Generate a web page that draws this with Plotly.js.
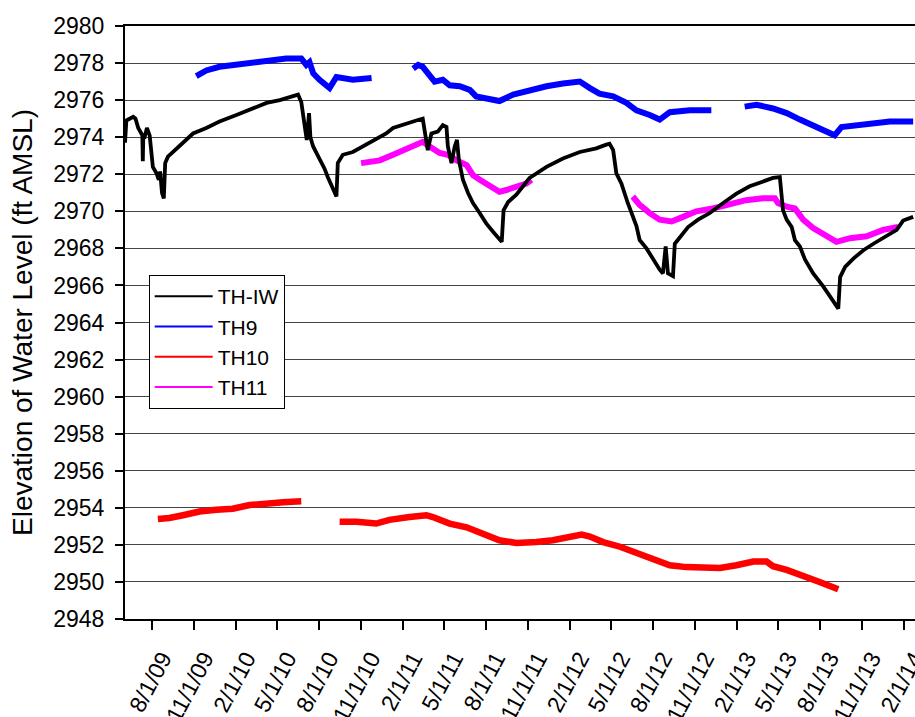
<!DOCTYPE html>
<html>
<head>
<meta charset="utf-8">
<script src="https://cdn.plot.ly/plotly-3.0.1.min.js"></script>
<style>html,body{margin:0;padding:0;background:#fff;}#chart{width:915px;height:717px;}</style>
</head>
<body>
<div id="chart"></div>
<script>
const seriesNames = ['TH-IW', 'TH9', 'TH10', 'TH11'];

const thiwDates = ['2009-06-02','2009-06-05','2009-06-20','2009-06-25','2009-07-01','2009-07-08','2009-07-10','2009-07-11','2009-07-12','2009-07-15','2009-07-20','2009-07-26','2009-07-30','2009-08-02','2009-08-10','2009-08-15','2009-08-18','2009-08-22','2009-08-26','2009-08-29','2009-09-04','2009-09-15','2009-10-03','2009-10-29','2009-11-27','2009-12-26','2010-02-01','2010-03-09','2010-04-08','2010-05-07','2010-06-05','2010-06-16','2010-06-23','2010-06-30','2010-07-05','2010-07-10','2010-07-13','2010-07-19','2010-08-02','2010-08-13','2010-08-20','2010-08-28','2010-09-04','2010-09-08','2010-09-11','2010-09-22','2010-10-14','2010-11-05','2010-11-27','2010-12-26','2011-01-10','2011-02-08','2011-03-02','2011-03-16','2011-03-20','2011-03-27','2011-04-04','2011-04-18','2011-04-29','2011-05-07','2011-05-10','2011-05-18','2011-05-25','2011-05-30','2011-06-03','2011-06-12','2011-06-23','2011-07-04','2011-07-19','2011-08-02','2011-08-17','2011-08-31','2011-09-05','2011-09-09','2011-09-19','2011-10-07','2011-11-05','2011-12-12','2012-01-17','2012-02-23','2012-03-30','2012-04-21','2012-04-28','2012-05-06','2012-05-13','2012-05-24','2012-06-07','2012-06-26','2012-07-03','2012-07-18','2012-08-01','2012-08-16','2012-08-23','2012-08-29','2012-09-03','2012-09-14','2012-09-18','2012-09-29','2012-10-17','2012-11-08','2012-12-03','2013-01-02','2013-01-31','2013-03-01','2013-03-30','2013-04-21','2013-05-06','2013-05-10','2013-05-13','2013-05-21','2013-06-01','2013-06-08','2013-06-19','2013-06-30','2013-07-18','2013-08-09','2013-08-27','2013-09-11','2013-09-15','2013-09-26','2013-10-14','2013-11-05','2013-11-27','2013-12-26','2014-01-17','2014-01-31','2014-02-22'];
const thiwValues = [2973.7,2974.9,2975.1,2975.0,2974.5,2974.2,2974.1,2972.7,2974.0,2974.0,2974.5,2974.1,2973.3,2972.4,2972.05,2971.7,2972.15,2971.0,2970.7,2972.6,2972.95,2973.2,2973.65,2974.2,2974.5,2974.85,2975.2,2975.55,2975.85,2976.0,2976.2,2976.3,2975.9,2974.6,2973.85,2975.3,2974.0,2973.5,2972.85,2972.3,2971.85,2971.4,2970.9,2970.8,2972.6,2973.05,2973.2,2973.5,2973.85,2974.2,2974.5,2974.75,2974.9,2975.0,2974.4,2973.3,2974.2,2974.3,2974.65,2974.55,2973.5,2972.6,2973.5,2973.85,2972.8,2971.7,2971.0,2970.45,2969.9,2969.35,2968.9,2968.45,2968.35,2970.05,2970.5,2970.9,2971.8,2972.4,2972.85,2973.2,2973.4,2973.6,2973.65,2973.3,2972.05,2971.5,2970.45,2969.2,2968.45,2968.0,2967.4,2966.85,2966.65,2968.1,2966.65,2966.5,2968.25,2968.6,2969.15,2969.55,2969.9,2970.45,2970.95,2971.35,2971.6,2971.8,2971.85,2970.95,2970.05,2969.55,2969.15,2968.45,2968.1,2967.4,2966.65,2965.95,2965.3,2964.75,2966.45,2967.0,2967.45,2967.9,2968.25,2968.65,2969.0,2969.5,2969.7];

const th9Dates = ['2009-11-05','2009-11-27','2009-12-26','2010-02-01','2010-03-09','2010-04-15','2010-05-21','2010-06-23','2010-07-04','2010-07-11','2010-07-19','2010-08-02','2010-08-24','2010-09-08','2010-10-14','2010-11-24','2011-01-15','2011-02-23','2011-03-06','2011-03-16','2011-03-31','2011-04-11','2011-04-29','2011-05-14','2011-06-05','2011-06-27','2011-07-11','2011-08-02','2011-08-31','2011-09-30','2011-11-05','2011-12-12','2012-01-17','2012-02-23','2012-03-16','2012-04-06','2012-05-06','2012-06-04','2012-06-26','2012-07-18','2012-07-25','2012-08-16','2012-09-07','2012-10-21','2012-12-07','2013-01-15','2013-02-18','2013-03-16','2013-04-21','2013-05-21','2013-06-19','2013-07-18','2013-08-16','2013-09-03','2013-09-18','2013-10-21','2013-11-27','2014-01-02','2014-02-22'];
const th9Values = [2977.3,2977.6,2977.8,2977.9,2978.05,2978.15,2978.25,2978.25,2977.9,2978.05,2977.45,2977.1,2976.65,2977.25,2977.1,2977.2,null,2977.7,2977.9,2977.8,2977.35,2977.0,2977.1,2976.8,2976.75,2976.55,2976.2,2976.1,2975.95,2976.3,2976.55,2976.75,2976.9,2977.0,2976.65,2976.35,2976.2,2975.85,2975.45,2975.3,2975.2,2974.95,2975.35,2975.45,2975.45,null,2975.65,2975.75,2975.55,2975.3,2974.95,2974.6,2974.3,2974.1,2974.55,2974.65,2974.75,2974.85,2974.85];

const th10Dates = ['2009-08-13','2009-09-07','2009-10-07','2009-11-12','2009-12-19','2010-01-24','2010-03-02','2010-04-08','2010-05-14','2010-06-23','2010-08-01','2010-09-15','2010-10-22','2010-12-04','2011-01-02','2011-02-15','2011-03-24','2011-04-07','2011-05-14','2011-06-20','2011-07-26','2011-08-31','2011-10-07','2011-10-29','2011-11-20','2011-12-26','2012-02-01','2012-02-27','2012-03-16','2012-04-14','2012-05-21','2012-06-26','2012-08-01','2012-09-07','2012-10-13','2012-11-18','2012-12-26','2013-01-31','2013-03-09','2013-04-07','2013-04-21','2013-05-21','2013-06-26','2013-08-01','2013-09-11'];
const th10Values = [2953.4,2953.45,2953.6,2953.8,2953.9,2953.95,2954.15,2954.25,2954.3,2954.35,null,2953.25,2953.25,2953.15,2953.35,2953.5,2953.6,2953.5,2953.15,2952.95,2952.6,2952.25,2952.1,2952.1,2952.15,2952.25,2952.45,2952.55,2952.45,2952.15,2951.9,2951.6,2951.25,2950.9,2950.8,2950.75,2950.75,2950.9,2951.1,2951.1,2950.85,2950.65,2950.35,2950.0,2949.6];

const th11Dates = ['2010-11-01','2010-12-12','2011-01-10','2011-02-08','2011-03-02','2011-03-16','2011-03-31','2011-04-22','2011-05-10','2011-05-29','2011-06-20','2011-07-04','2011-07-19','2011-08-10','2011-08-31','2011-09-15','2011-10-07','2011-10-29','2011-11-09','2012-03-01','2012-06-18','2012-07-03','2012-07-18','2012-07-25','2012-08-16','2012-09-11','2012-10-06','2012-11-04','2012-12-10','2013-01-16','2013-02-21','2013-03-30','2013-04-25','2013-05-02','2013-05-21','2013-06-08','2013-06-26','2013-07-18','2013-08-16','2013-09-07','2013-10-07','2013-11-12','2013-12-18','2014-01-20'];
const th11Values = [2972.6,2972.75,2973.05,2973.4,2973.65,2973.75,2973.5,2973.15,2973.05,2972.75,2972.5,2971.95,2971.7,2971.35,2971.05,2971.15,2971.35,2971.5,2971.7,null,2970.8,2970.35,2970.05,2969.9,2969.55,2969.45,2969.7,2970.0,2970.15,2970.35,2970.6,2970.7,2970.7,2970.45,2970.25,2970.15,2969.55,2969.1,2968.65,2968.35,2968.55,2968.65,2969.0,2969.15];

const xTickVals = ['2009-08-01','2009-11-01','2010-02-01','2010-05-01','2010-08-01','2010-11-01','2011-02-01','2011-05-01','2011-08-01','2011-11-01','2012-02-01','2012-05-01','2012-08-01','2012-11-01','2013-02-01','2013-05-01','2013-08-01','2013-11-01','2014-02-01'];
const xTickText = ['8/1/09','11/1/09','2/1/10','5/1/10','8/1/10','11/1/10','2/1/11','5/1/11','8/1/11','11/1/11','2/1/12','5/1/12','8/1/12','11/1/12','2/1/13','5/1/13','8/1/13','11/1/13','2/1/14'];

const colors = ['#000000', '#0000FF', '#FF0000', '#FF00FF'];
const FONT = 'Liberation Sans, Arial, sans-serif';

const traces = [
  {x: th11Dates, y: th11Values, mode: 'lines', line: {color: colors[3], width: 6}, showlegend: false, connectgaps: false},
  {x: th9Dates, y: th9Values, mode: 'lines', line: {color: colors[1], width: 6}, showlegend: false, connectgaps: false},
  {x: th10Dates, y: th10Values, mode: 'lines', line: {color: colors[2], width: 6.5}, showlegend: false, connectgaps: false},
  {x: thiwDates, y: thiwValues, mode: 'lines', line: {color: colors[0], width: 3.8}, showlegend: false, connectgaps: false}
];
seriesNames.forEach((n, i) => {
  traces.push({x: [null], y: [null], mode: 'lines', name: n, line: {color: colors[i], width: 2}, showlegend: true});
});

const layout = {
  width: 915, height: 717,
  margin: {l: 125, r: 0, t: 26, b: 98},
  paper_bgcolor: '#fff', plot_bgcolor: '#fff',
  font: {family: FONT, color: '#000'},
  showlegend: true,
  legend: {
    x: 0.03, y: 0.58, xanchor: 'left', yanchor: 'top',
    bgcolor: '#fff', bordercolor: '#000', borderwidth: 1,
    font: {family: FONT, size: 21, color: '#000'},
    itemwidth: 58, tracegroupgap: 0,
    entrywidth: 133, entrywidthmode: 'pixels'
  },
  xaxis: {
    type: 'date',
    range: ['2009-06-02', '2014-02-26'],
    tickvals: xTickVals, ticktext: xTickText,
    tickangle: -62,
    ticks: 'outside', ticklen: 9, tickwidth: 2, tickcolor: '#000',
    showgrid: false, zeroline: false,
    showline: true, linecolor: '#000', linewidth: 2, mirror: true,
    tickfont: {family: FONT, size: 23, color: '#000'},
    ticklabelshift: 10, ticklabelstandoff: 6,
    ticklabeloverflow: 'allow'
  },
  yaxis: {
    range: [2948, 2980], dtick: 2, tick0: 2948,
    ticks: 'outside', ticklen: 8, tickwidth: 2, tickcolor: '#000',
    showgrid: true, gridcolor: '#444', gridwidth: 1,
    zeroline: false, showline: true, linecolor: '#000', linewidth: 2,
    tickfont: {family: FONT, size: 23, color: '#000'},
    ticklabelstandoff: 6,
    title: {text: 'Elevation of Water Level (ft AMSL)', font: {family: FONT, size: 28, color: '#000'}, standoff: 12}
  }
};

Plotly.newPlot('chart', traces, layout, {displayModeBar: false, staticPlot: true});
</script>
</body>
</html>
